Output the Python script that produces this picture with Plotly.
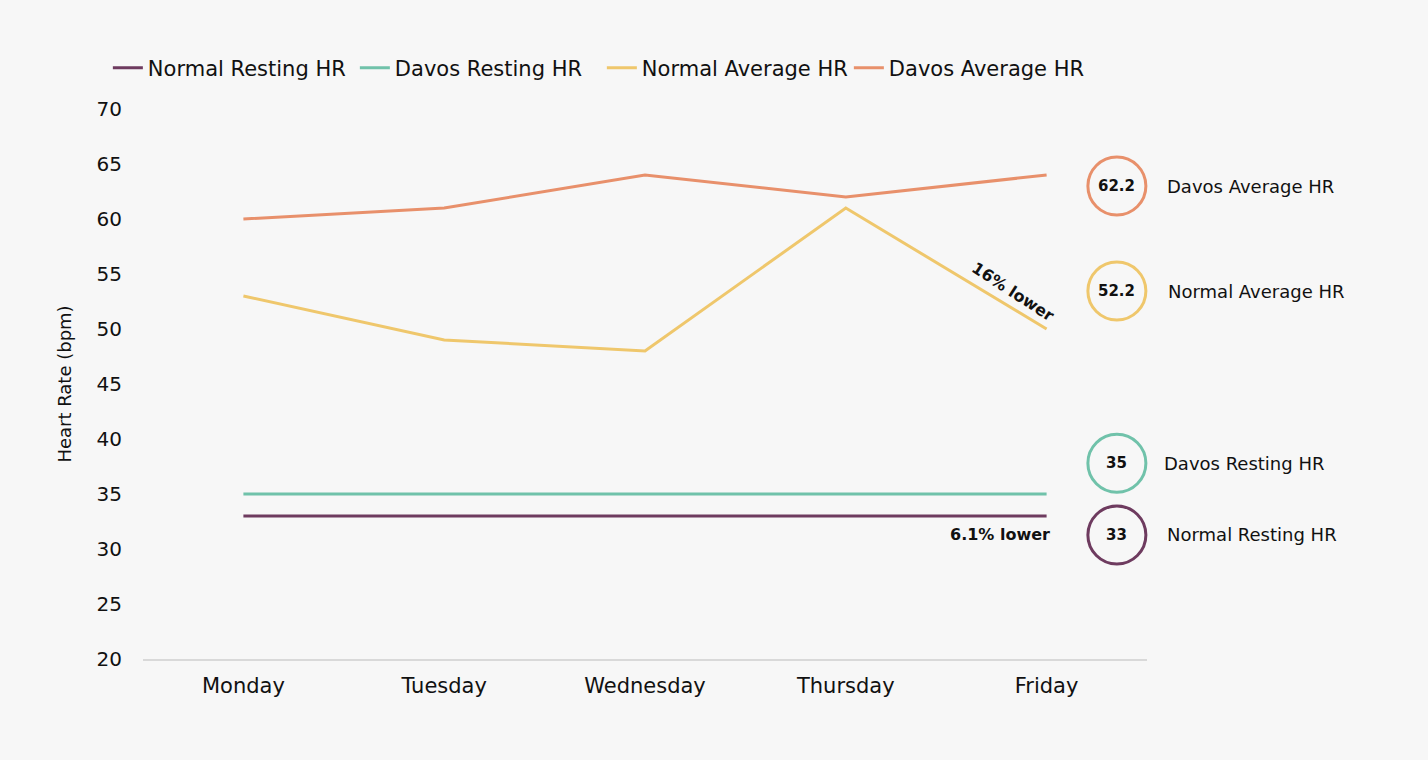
import numpy as np
import plotly.graph_objects as go

days = ["Monday", "Tuesday", "Wednesday", "Thursday", "Friday"]
normal_resting = [33, 33, 33, 33, 33]
davos_resting = [35, 35, 35, 35, 35]
normal_average = [53, 49, 48, 61, 50]
davos_average = [60, 61, 64, 62, 64]

series_names = ["Normal Resting HR", "Davos Resting HR", "Normal Average HR", "Davos Average HR"]
series_values = [normal_resting, davos_resting, normal_average, davos_average]
colors = ["#6e3b5f", "#70c2aa", "#efc76c", "#e8906b"]

FONT = "DejaVu Sans"
TXT = "#111111"

fig = go.Figure()
for name, vals, col in zip(series_names, series_values, colors):
    fig.add_trace(go.Scatter(x=days, y=vals, name=name, mode="lines",
                             line=dict(color=col, width=3), hoverinfo="x+y+name"))

# summary circles (order top-to-bottom)
circle_specs = [
    ("Davos Average HR", davos_average, "#e8906b", 0.860, 1.018),
    ("Normal Average HR", normal_average, "#efc76c", 0.669, 1.019),
    ("Davos Resting HR", davos_resting, "#70c2aa", 0.356, 1.015),
    ("Normal Resting HR", normal_resting, "#6e3b5f", 0.2255, 1.018),
]
shapes = []
annotations = []
for label, vals, col, py, lx in circle_specs:
    mean = float(np.mean(vals))
    txt = f"{mean:.1f}" if abs(mean - round(mean)) > 1e-9 else f"{int(round(mean))}"
    shapes.append(dict(type="circle", xref="paper", yref="paper",
                       xsizemode="pixel", ysizemode="pixel",
                       xanchor=0.970, yanchor=py, x0=-29, x1=29, y0=-29, y1=29,
                       line=dict(color=col, width=3), fillcolor="rgba(0,0,0,0)"))
    annotations.append(dict(x=0.970, y=py, xref="paper", yref="paper", text=f"<b>{txt}</b>",
                            xanchor="center", yanchor="middle", showarrow=False,
                            font=dict(family=FONT, size=15, color=TXT)))
    annotations.append(dict(x=lx, y=py, xref="paper", yref="paper", text=label,
                            xanchor="left", yanchor="middle", showarrow=False,
                            font=dict(family=FONT, size=18, color=TXT)))

annotations.append(dict(x=4, y=53.4, xref="x", yref="y", xshift=-34, text="<b>16% lower</b>",
                        xanchor="center", yanchor="middle",
                        textangle=33, showarrow=False, font=dict(family=FONT, size=16, color=TXT)))
annotations.append(dict(x=4, y=31.3, xref="x", yref="y", xshift=5, text="<b>6.1% lower</b>",
                        xanchor="right", yanchor="middle", showarrow=False,
                        font=dict(family=FONT, size=16, color=TXT)))

fig.update_layout(
    width=1428, height=760,
    paper_bgcolor="#f7f7f7", plot_bgcolor="#f7f7f7",
    margin=dict(l=143, r=281, t=109, b=101),
    font=dict(family=FONT, size=21, color=TXT),
    showlegend=True,
    legend=dict(orientation="h", x=-0.035, xanchor="left", y=1.0745, yanchor="middle",
                font=dict(family=FONT, size=21, color=TXT), itemwidth=30,
                entrywidth=202, entrywidthmode="pixels",
                bgcolor="rgba(0,0,0,0)", tracegroupgap=0),
    xaxis=dict(type="category", range=[-0.5, 4.5], showgrid=False, zeroline=False,
               showline=True, linecolor="#d9d9d9", linewidth=2, ticks="",
               tickfont=dict(family=FONT, size=21, color=TXT), ticklabelstandoff=7),
    yaxis=dict(range=[20, 70], dtick=5, tick0=20, showgrid=False, zeroline=False,
               showline=False, ticks="", tickfont=dict(family=FONT, size=20, color=TXT),
               ticklabelstandoff=20,
               title=dict(text="Heart Rate (bpm)", font=dict(family=FONT, size=18, color=TXT),
                          standoff=20)),
    shapes=shapes,
    annotations=annotations,
)

fig.write_html("out.html")
